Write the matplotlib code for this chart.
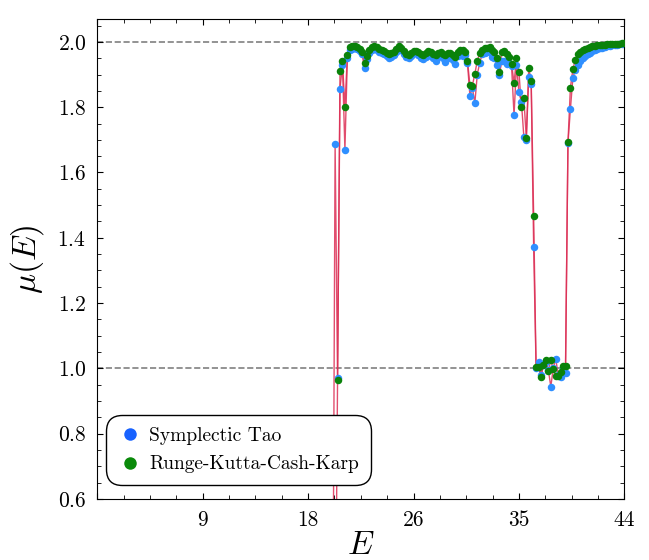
import numpy as np
import matplotlib
matplotlib.use("Agg")
import matplotlib.pyplot as plt
from matplotlib.lines import Line2D
from matplotlib.ticker import AutoMinorLocator, MultipleLocator

plt.rcParams.update({
    "font.family": "serif",
    "font.serif": ["cmr10"],
    "mathtext.fontset": "cm",
    "axes.formatter.use_mathtext": True,
    "axes.unicode_minus": False,
})

# energy grid
E = np.round(np.linspace(20.0, 44.0, 121), 1)

# mu(E) from the symplectic integrator
mu_tao = [
    0.0, 0.0, 1.688, 0.97, 1.857, 1.93, 1.67, 1.95, 1.975, 1.978,
    1.98, 1.978, 1.972, 1.962, 1.92, 1.948, 1.965, 1.975, 1.98, 1.976,
    1.97, 1.967, 1.962, 1.958, 1.952, 1.955, 1.96, 1.97, 1.976, 1.974,
    1.963, 1.955, 1.951, 1.958, 1.965, 1.966, 1.96, 1.952, 1.947, 1.955,
    1.962, 1.958, 1.95, 1.943, 1.955, 1.96, 1.95, 1.938, 1.952, 1.958,
    1.945, 1.932, 1.958, 1.962, 1.957, 1.96, 1.935, 1.835, 1.86, 1.812,
    1.9, 1.936, 1.962, 1.967, 1.968, 1.97, 1.955, 1.95, 1.928, 1.9,
    1.94, 1.942, 1.932, 1.935, 1.925, 1.775, 1.93, 1.845, 1.817, 1.71,
    1.70, 1.892, 1.87, 1.372, 1.0, 1.018, 0.98, 1.01, 1.02, 0.995,
    0.944, 1.0, 1.03, 0.98, 0.974, 1.0, 0.985, 1.69, 1.794, 1.89,
    1.914, 1.93, 1.943, 1.95, 1.957, 1.962, 1.967, 1.972, 1.975, 1.978,
    1.98, 1.982, 1.984, 1.986, 1.988, 1.99, 1.991, 1.992, 1.993, 1.994,
    1.995,
]

# mu(E) from Runge-Kutta-Cash-Karp
mu_rkck = [
    0.0, 0.0, 0.0, 0.965, 1.91, 1.94, 1.80, 1.96, 1.985, 1.988,
    1.986, 1.983, 1.978, 1.97, 1.935, 1.957, 1.975, 1.985, 1.988, 1.983,
    1.978, 1.975, 1.972, 1.966, 1.962, 1.965, 1.97, 1.978, 1.986, 1.982,
    1.972, 1.963, 1.96, 1.965, 1.972, 1.973, 1.968, 1.962, 1.96, 1.965,
    1.973, 1.97, 1.963, 1.96, 1.965, 1.97, 1.963, 1.96, 1.965, 1.967,
    1.96, 1.955, 1.97, 1.975, 1.975, 1.97, 1.942, 1.868, 1.866, 1.902,
    1.942, 1.965, 1.975, 1.98, 1.982, 1.983, 1.976, 1.97, 1.95, 1.909,
    1.97, 1.972, 1.962, 1.955, 1.933, 1.874, 1.95, 1.909, 1.80, 1.828,
    1.705, 1.92, 1.88, 1.468, 1.003, 1.005, 0.974, 1.01, 1.025, 0.993,
    1.025, 0.997, 0.976, 0.976, 0.99, 1.007, 1.007, 1.692, 1.86, 1.916,
    1.945, 1.962, 1.97, 1.975, 1.979, 1.982, 1.985, 1.987, 1.988, 1.989,
    1.99, 1.991, 1.992, 1.993, 1.993, 1.994, 1.994, 1.995, 1.995, 1.996,
    1.996,
]

labels = ["Symplectic Tao", "Runge-Kutta-Cash-Karp"]
x_ticks = np.linspace(1, 44, 6)
x_ticklabels = [""] + ["%d" % t for t in x_ticks[1:]]
ref_levels = [1.0, 2.0]

c_line = "#dc2f55"
c_tao = "#2f8fff"
c_rkck = "#0a820a"

fig = plt.figure(figsize=(6.49, 5.60), dpi=100)
ax = fig.add_axes([0.150, 0.109, 0.812, 0.857])

for lvl in ref_levels:
    ax.axhline(lvl, color="gray", ls="--", lw=1.2, zorder=0)

ax.plot(E, mu_tao, color=c_line, lw=1.0, alpha=0.85, zorder=1)
ax.plot(E, mu_rkck, color=c_line, lw=1.0, alpha=0.85, zorder=1)
ax.plot(E, mu_tao, "o", color=c_tao, ms=5.4, mec="none", zorder=2)
ax.plot(E, mu_rkck, "o", color=c_rkck, ms=5.4, mec="none", zorder=3)

ax.set_xlim(1, 44)
ax.set_ylim(0.6, 2.07)
ax.set_xticks(x_ticks)
ax.set_xticklabels(x_ticklabels)
ax.xaxis.set_minor_locator(AutoMinorLocator(4))
ax.yaxis.set_major_locator(MultipleLocator(0.2))
ax.yaxis.set_minor_locator(MultipleLocator(0.05))
ax.tick_params(which="both", direction="in", top=True, right=True,
               labelsize=15.5, pad=8)
ax.tick_params(which="major", length=4.5)
ax.tick_params(which="minor", length=2.8)

ax.set_xlabel(r"$E$", fontsize=24, labelpad=1)
ax.set_ylabel(r"$\mu(E)$", fontsize=24, labelpad=8)

handles = [
    Line2D([], [], ls="none", marker="o", ms=9, color="#1862ff", mec="none"),
    Line2D([], [], ls="none", marker="o", ms=9, color="#0a8a0a", mec="none"),
]
leg = ax.legend(handles, labels, loc="lower left",
                bbox_to_anchor=(0.017, 0.029), borderaxespad=0,
                fontsize=14, frameon=True, framealpha=1, edgecolor="black",
                borderpad=0.6, labelspacing=0.55, handletextpad=0.4,
                handlelength=1.2)
leg.get_frame().set_linewidth(1.0)
leg.get_frame().set_boxstyle("round", pad=0, rounding_size=0.8)

fig.savefig("out.png", dpi=100)
